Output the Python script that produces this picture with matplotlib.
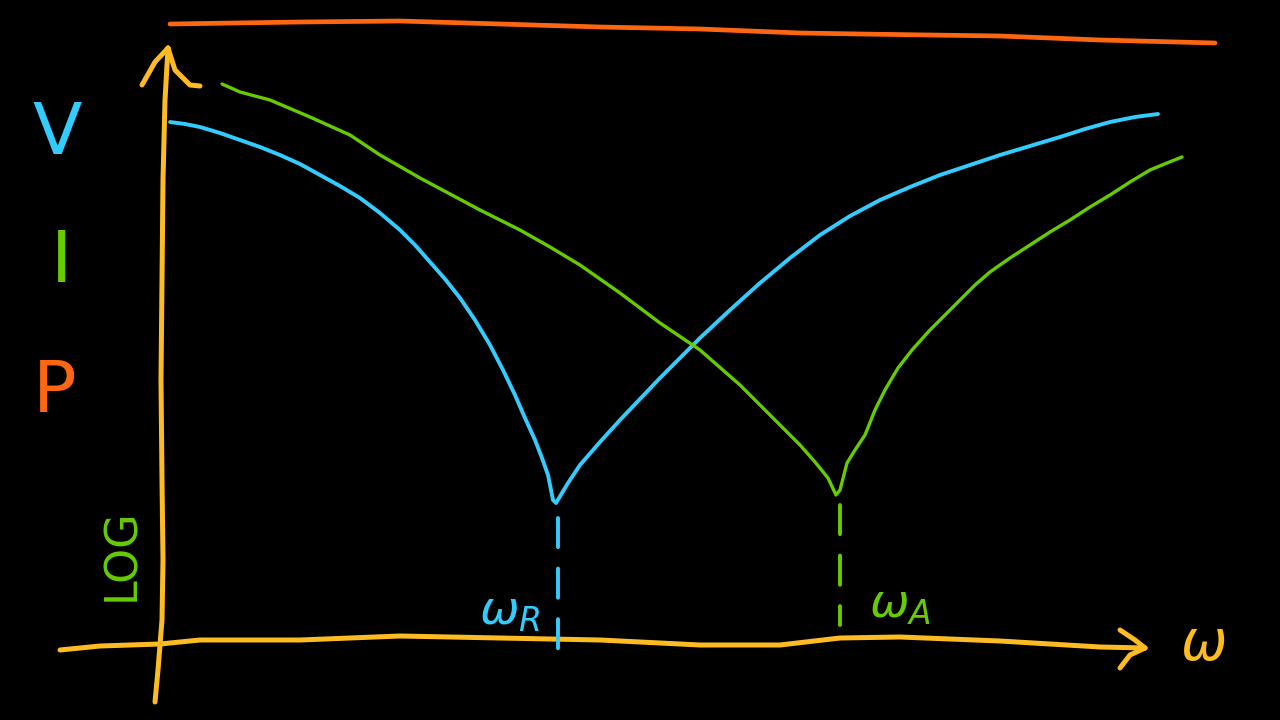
import matplotlib
matplotlib.use("Agg")
import matplotlib.pyplot as plt
import numpy as np

# Coordinates are given in the sketch's own frame (x to the right, y downward)
BLUE = "#33CCFF"
GREEN = "#66CC00"
ORANGE = "#FF6611"
YELLOW = "#FFBB22"

# Voltage curve (blue): falls to a minimum at omega_R, then rises
v_x = [170, 185, 200, 220, 240, 260, 280, 300, 320, 340, 360, 380, 400, 415, 430,
       445, 460, 475, 490, 503, 515, 525, 535, 542, 548, 553,
       556, 568, 580, 600, 620, 640, 660, 680, 700, 730, 760, 790, 820, 850, 880,
       910, 940, 970, 1000, 1030, 1060, 1085, 1110, 1135, 1158]
v_y = [122, 124, 127, 133, 140, 147, 155, 164, 175, 186, 198, 213, 230, 245, 262,
       279, 298, 320, 345, 370, 395, 418, 440, 458, 475, 500,
       503, 483, 465, 442, 420, 399, 378, 358, 338, 310, 283, 258, 235, 216, 200,
       187, 175, 165, 155, 146, 137, 129, 122, 117, 114]

# Current curve (green): falls to a minimum at omega_A, then rises
i_x = [222, 240, 270, 310, 350, 380, 420, 450, 480, 520, 550, 580, 620, 660, 700, 740,
       760, 780, 800, 815, 828, 836, 840, 847, 855, 865, 875, 885, 898, 912, 930,
       945, 960, 975, 990, 1010, 1030, 1050, 1070, 1090, 1110, 1130, 1150, 1167, 1182]
i_y = [84, 92, 100, 117, 135, 155, 178, 194, 210, 230, 247, 265, 293, 323, 350, 385,
       405, 425, 445, 462, 478, 495, 490, 463, 450, 435, 410, 390, 368, 350, 330,
       315, 300, 285, 272, 258, 245, 232, 220, 207, 195, 182, 170, 163, 157]

# Power line (orange): nearly flat at the top
p_x = [170, 300, 400, 500, 600, 700, 800, 860, 1000, 1100, 1215]
p_y = [24, 22, 21, 24, 27, 29, 33, 34, 36, 40, 43]

# Axes (yellow)
xa_x = [60, 100, 160, 200, 300, 400, 500, 600, 700, 780, 840, 900, 1000, 1100, 1145]
xa_y = [650, 646, 644, 640, 640, 636, 638, 640, 645, 645, 638, 637, 641, 647, 648]
ya_x = [155, 158, 162, 163, 162, 161, 162, 163, 165, 168]
ya_y = [702, 670, 620, 560, 480, 380, 280, 180, 100, 48]

wR, wA = 558, 840

fig = plt.figure(figsize=(12.8, 7.2), dpi=100, facecolor="black")
ax = fig.add_axes([0, 0, 1, 1])
ax.set_facecolor("black")
ax.set_xlim(0, 1280)
ax.set_ylim(720, 0)
ax.axis("off")

kw = dict(solid_capstyle="round", solid_joinstyle="round")
ax.plot(p_x, p_y, color=ORANGE, lw=3.4, **kw)
ax.plot(v_x, v_y, color=BLUE, lw=2.8, **kw)
ax.plot(i_x, i_y, color=GREEN, lw=2.4, **kw)
ax.plot(xa_x, xa_y, color=YELLOW, lw=3.6, **kw)
ax.plot(ya_x, ya_y, color=YELLOW, lw=3.6, **kw)

# arrowheads
ax.plot([1120, 1135, 1145], [630, 640, 648], color=YELLOW, lw=3.6, **kw)
ax.plot([1145, 1130, 1120], [648, 655, 668], color=YELLOW, lw=3.6, **kw)
ax.plot([168, 155, 142], [48, 62, 85], color=YELLOW, lw=3.6, **kw)
ax.plot([168, 175, 190, 200], [48, 70, 85, 86], color=YELLOW, lw=3.6, **kw)

# dashed drop lines
ax.plot([wR, wR], [518, 657], color=BLUE, lw=2.8, ls=(0, (7.5, 5.5)), dash_capstyle="round")
ax.plot([wA, wA], [505, 625], color=GREEN, lw=2.8, ls=(0, (7.5, 5.5)), dash_capstyle="round")

# labels
ax.text(57, 135, "V", color=BLUE, fontsize=52, ha="center", va="center")
ax.text(62, 262, "I", color=GREEN, fontsize=52, ha="center", va="center")
ax.text(55, 392, "P", color=ORANGE, fontsize=52, ha="center", va="center")
ax.text(122, 555, "LOG", color=GREEN, fontsize=32, rotation=90, ha="center", va="center")
ax.text(510, 612, r"$\omega_R$", color=BLUE, fontsize=34, ha="center", va="center")
ax.text(900, 605, r"$\omega_A$", color=GREEN, fontsize=34, ha="center", va="center")
ax.text(1203, 645, r"$\omega$", color=YELLOW, fontsize=40, ha="center", va="center")

fig.savefig("out.png", dpi=100, facecolor="black")
